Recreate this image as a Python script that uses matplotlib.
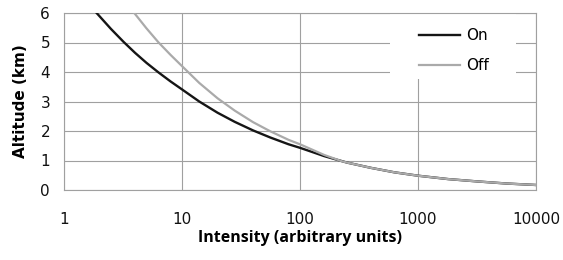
import matplotlib
matplotlib.use('Agg')
import matplotlib.pyplot as plt
from matplotlib.patches import Rectangle
from matplotlib.ticker import FixedLocator, FixedFormatter, NullLocator

# curve readings (intensity, altitude)
on_x = [1.41, 1.89, 2.5, 3.2, 4, 5, 6.3, 8, 10, 14, 20, 28, 40, 56, 80, 100,
        160, 250, 400, 630, 1000, 1800, 3200, 5600, 10000]
on_y = [6.63, 6.0, 5.46, 5.02, 4.65, 4.31, 3.99, 3.68, 3.41, 3.0, 2.62, 2.31,
        2.02, 1.78, 1.55, 1.43, 1.15, 0.93, 0.75, 0.6, 0.485, 0.37, 0.29, 0.22, 0.17]
off_x = [3.2, 3.94, 5, 6.3, 8, 10, 14, 20, 28, 40, 56, 80, 100, 160, 224,
         250, 400, 630, 1000, 1800, 3200, 5600, 10000]
off_y = [6.49, 6.0, 5.48, 5.01, 4.58, 4.2, 3.63, 3.11, 2.69, 2.3, 1.99, 1.7,
         1.55, 1.19, 0.98, 0.93, 0.75, 0.6, 0.485, 0.37, 0.29, 0.22, 0.17]

x_ticks = [1, 10, 100, 1000, 10000]
x_labels = ['1', '10', '100', '1000', '10000']
y_ticks = [0, 1, 2, 3, 4, 5, 6]

plt.rcParams['font.family'] = ['DejaVu Sans']

fig = plt.figure(figsize=(5.63, 2.60), dpi=100)
ax = fig.add_axes([64 / 563, 70 / 260, 472 / 563, 177 / 260])

ax.plot(on_x, on_y, color='#151515', lw=1.7, label='On', zorder=3)
ax.plot(off_x, off_y, color='#aaaaaa', lw=1.6, label='Off', zorder=3)

ax.set_xscale('log')
ax.set_xlim(1, 10000)
ax.set_ylim(0, 6)
ax.xaxis.set_major_locator(FixedLocator(x_ticks))
ax.xaxis.set_major_formatter(FixedFormatter(x_labels))
ax.xaxis.set_minor_locator(NullLocator())
ax.set_yticks(y_ticks)

ax.grid(True, color='#a0a0a0', lw=0.8)
ax.set_axisbelow(True)
for s in ax.spines.values():
    s.set_color('#a0a0a0')
    s.set_linewidth(0.8)
ax.tick_params(length=0, labelsize=11, colors='#111111')
ax.tick_params(axis='x', pad=16)
ax.tick_params(axis='y', pad=10)

ax.set_xlabel('Intensity (arbitrary units)', fontsize=11.5, fontweight='bold',
              family=['Open Sans', 'DejaVu Sans'], labelpad=2)
ax.set_ylabel('Altitude (km)', fontsize=11, fontweight='bold', labelpad=9)

# white legend background, hides the grid behind it
ax.add_patch(Rectangle((0.691, 0.627), 0.267, 0.373, transform=ax.transAxes,
                       facecolor='white', edgecolor='none', zorder=1))

leg = ax.legend(loc='upper left', bbox_to_anchor=(0.752, 0.913), frameon=False,
                fontsize=11, handlelength=2.7, handletextpad=0.4,
                labelspacing=0.95, borderpad=0, borderaxespad=0)

fig.savefig('out.png', dpi=100)
